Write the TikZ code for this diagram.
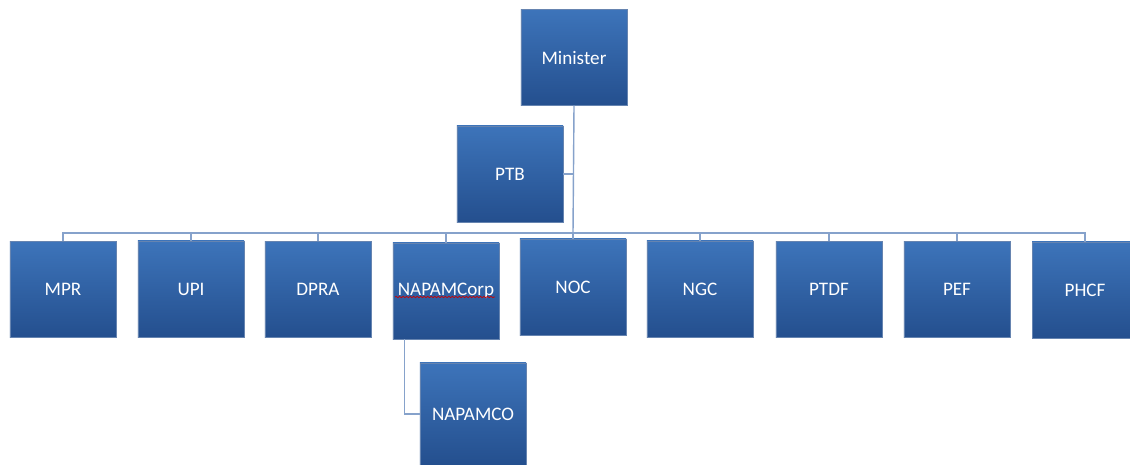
\documentclass[tikz,border=0pt]{standalone}
\usepackage{fontspec}
\setmainfont{Carlito}
\usetikzlibrary{calc}
\usetikzlibrary{shadows}
\usetikzlibrary{decorations.pathmorphing}
\definecolor{boxtop}{HTML}{3D74BA}
\definecolor{boxbottom}{HTML}{244F8E}
\definecolor{wire}{HTML}{86A2CB}
\tikzset{
	% Two styles for the chart: unit boxes and the wires between them
	unit box/.style={rectangle,minimum width=2.65cm,minimum height=2.4cm,inner sep=0,
		top color=boxtop,bottom color=boxbottom,draw=boxbottom!70,line width=0.2pt,
		drop shadow={opacity=0.2,shadow xshift=0.6pt,shadow yshift=-0.6pt},
		text=white,font=\fontsize{13.6}{16}\selectfont},
	wire/.style={draw=wire,line width=1pt}
}
\begin{document}
\begin{tikzpicture}[x=0.025cm,y=-0.025cm]
			\useasboundingbox[fill=white](0,0)rectangle(1130,465);
			% top of the chart
			\node(minister)[unit box]at(574,57.5){Minister};
			\node(ptb)[unit box]at(510,174){PTB};
			
			% the row of agencies
			\node(mpr)[unit box]at(63,289.5){MPR};
			\node(upi)[unit box]at(191,289){UPI};
			\node(dpra)[unit box]at(318,289.5){DPRA};
			\node(napamcorp)[unit box]at(446,291){NAPAMCorp};
			\node(noc)[unit box]at(573,287){NOC};
			\node(ngc)[unit box]at(700,289){NGC};
			\node(ptdf)[unit box]at(829,289.5){PTDF};
			\node(pef)[unit box]at(957,289.5){PEF};
			\node(phcf)[unit box]at(1085,290){PHCF};
			
			% subsidiary
			\node(napamco)[unit box,minimum height=2.55cm]at(473,414){NAPAMCO};
			
			% spell-check mark under NAPAMCorp
			\draw[red!80!black,line width=0.5pt,decorate,
				decoration={snake,amplitude=0.5pt,segment length=2.5pt}]
				($(napamcorp.center)+(-51,6)$)--($(napamcorp.center)+(49,6)$);
			
			% wires
			\coordinate(hub)at(573,233);
			\draw[wire](minister.south)--(hub);
			\draw[wire](ptb.east)--(ptb.east-|hub);
			\draw[wire](hub)-|(mpr.north);
			\draw[wire](hub)-|(upi.north);
			\draw[wire](hub)-|(dpra.north);
			\draw[wire](hub)-|(napamcorp.north);
			\draw[wire](hub)--(noc.north);
			\draw[wire](hub)-|(ngc.north);
			\draw[wire](hub)-|(ptdf.north);
			\draw[wire](hub)-|(pef.north);
			\draw[wire](hub)-|(phcf.north);
			\draw[wire]($(napamcorp.south west)!.11!(napamcorp.south east)$)|-(napamco.west);
		\end{tikzpicture}
\end{document}
